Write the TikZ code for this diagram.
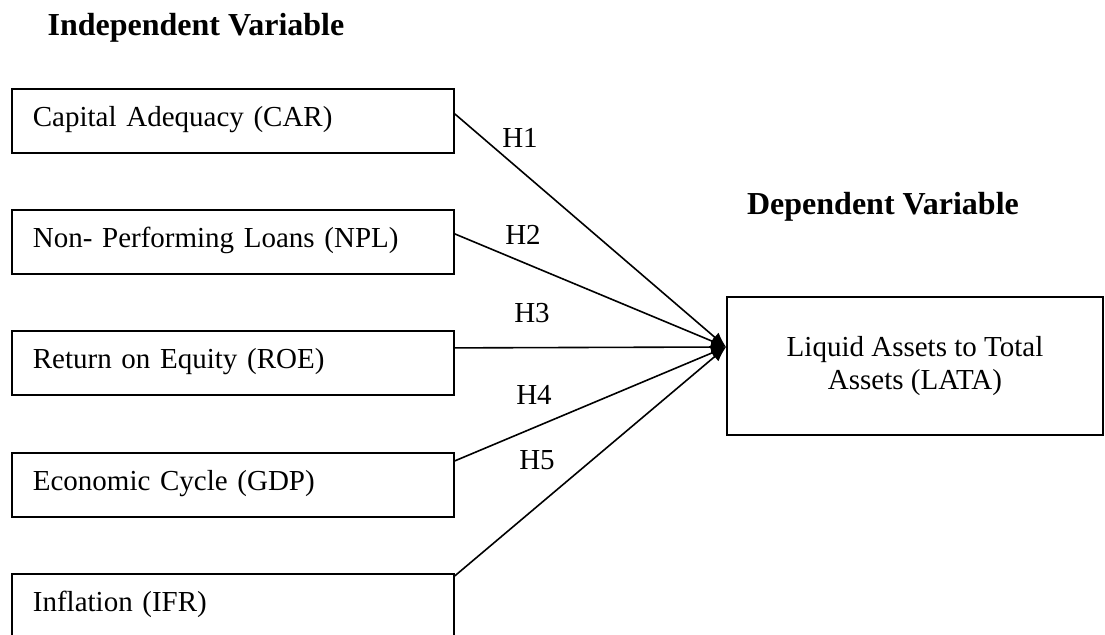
\documentclass[tikz,border=0pt]{standalone}
\usepackage{fontspec}
\setmainfont{Liberation Serif}
\usetikzlibrary{arrows.meta}
\begin{document}
\begin{tikzpicture}[x=0.5pt, y=-0.5pt, font=\fontsize{14.5}{16.5}\selectfont]
\tikzstyle{indep}=[draw, line width=0.9pt, anchor=north west, text width=200pt, inner xsep=10.5pt, inner ysep=0pt, minimum height=32pt, text height=12.5pt, text depth=6.5pt, align=left]
\tikzstyle{dep}=[draw, line width=0.9pt, minimum width=188pt, minimum height=69pt, align=center]
\tikzstyle{head}=[font=\fontsize{16}{19}\selectfont\bfseries]
\tikzstyle{conn}=[-{Latex[length=7.5pt, width=6pt]}, line width=0.8pt]
\useasboundingbox (0,0) rectangle (1105,635);
\node[head] (indephead) at (196,28) {Independent Variable};
\node[head] (dephead) at (883,207) {Dependent Variable};
\node[indep] (car) at (11,88) {Capital Adequacy (CAR)};
\node[indep] (npl) at (11,209) {Non- Performing Loans (NPL)};
\node[indep] (roe) at (11,330) {Return on Equity (ROE)};
\node[indep] (gdp) at (11,452) {Economic Cycle (GDP)};
\node[indep] (ifr) at (11,573) {Inflation (IFR)};
\node[dep] (lata) at (915,366) {Liquid Assets to Total\\Assets (LATA)};
\coordinate (tip) at ([yshift=9.5pt]lata.west);
\draw[conn] ([yshift=3.5pt]car.east) -- (tip);
\draw[conn] ([yshift=4pt]npl.east) -- (tip);
\draw[conn] ([yshift=7.5pt]roe.east) -- (tip);
\draw[conn] ([yshift=12pt]gdp.east) -- (tip);
\draw[conn] ([yshift=15pt]ifr.east) -- (tip);
\node (h1) at (520,138) {H1};
\node (h2) at (523,235) {H2};
\node (h3) at (532,313) {H3};
\node (h4) at (534,395) {H4};
\node (h5) at (537,460) {H5};
\end{tikzpicture}
\end{document}
